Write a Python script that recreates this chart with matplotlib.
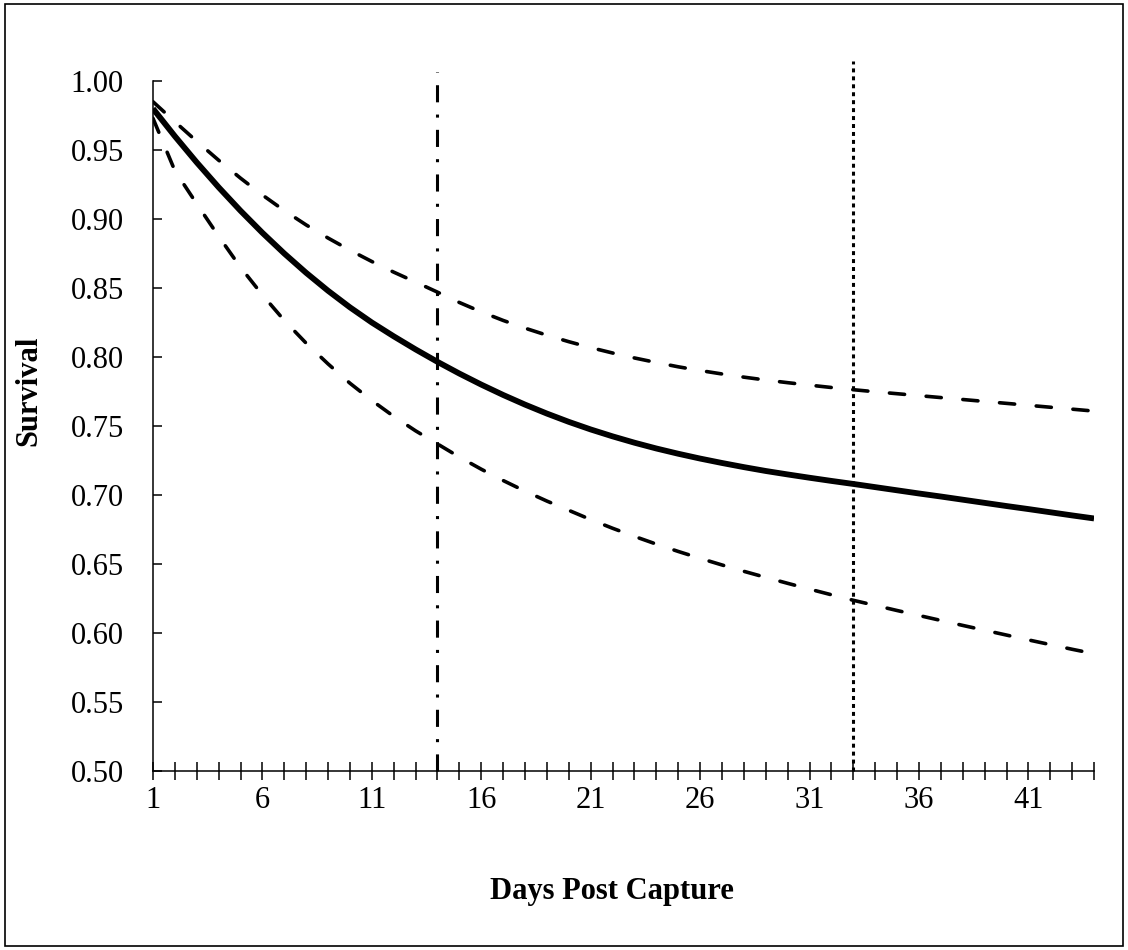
import matplotlib.pyplot as plt
import numpy as np
from matplotlib.patches import Rectangle

# days post capture
days = np.arange(1, 45)

# estimated survival curve and its confidence bounds
survival = [0.9800, 0.9600, 0.9410, 0.9230, 0.9060, 0.8900, 0.8750, 0.8610, 0.8480, 0.8360,
            0.8250, 0.8150, 0.8055, 0.7965, 0.7880, 0.7800, 0.7725, 0.7655, 0.7590, 0.7530,
            0.7475, 0.7425, 0.7379, 0.7337, 0.7299, 0.7264, 0.7232, 0.7202, 0.7174, 0.7149,
            0.7125, 0.7102, 0.7080, 0.7057, 0.7034, 0.7011, 0.6989, 0.6966, 0.6943, 0.6920,
            0.6898, 0.6875, 0.6852, 0.6830]
upper = [0.9850, 0.9705, 0.9563, 0.9426, 0.9296, 0.9174, 0.9061, 0.8957, 0.8862, 0.8774,
         0.8692, 0.8615, 0.8543, 0.8470, 0.8395, 0.8327, 0.8265, 0.8209, 0.8158, 0.8111,
         0.8068, 0.8029, 0.7993, 0.7960, 0.7929, 0.7902, 0.7877, 0.7854, 0.7833, 0.7814,
         0.7796, 0.7779, 0.7763, 0.7748, 0.7734, 0.7720, 0.7706, 0.7692, 0.7678, 0.7664,
         0.7650, 0.7636, 0.7622, 0.7608]
lower = [0.9730, 0.9350, 0.9110, 0.8875, 0.8650, 0.8450, 0.8265, 0.8100, 0.7950, 0.7810,
         0.7685, 0.7570, 0.7465, 0.7370, 0.7275, 0.7187, 0.7105, 0.7028, 0.6956, 0.6889,
         0.6822, 0.6759, 0.6700, 0.6644, 0.6591, 0.6541, 0.6493, 0.6447, 0.6403, 0.6360,
         0.6318, 0.6277, 0.6237, 0.6200, 0.6163, 0.6127, 0.6091, 0.6055, 0.6020, 0.5985,
         0.5950, 0.5916, 0.5882, 0.5850]

# reference day markers (vertical lines)
dashdot_day = [14, 14]
dashdot_y = [0.50, 1.0065]
dotted_day = [33, 33]
dotted_y = [0.50, 1.0145]

y_ticks = [0.50, 0.55, 0.60, 0.65, 0.70, 0.75, 0.80, 0.85, 0.90, 0.95, 1.00]
x_labels = [str(d) if (d - 1) % 5 == 0 else '' for d in days]

plt.rcParams['font.family'] = ['Liberation Serif', 'DejaVu Serif']
plt.rcParams['font.size'] = 22

fig = plt.figure(figsize=(11.28, 9.5), dpi=100)
ax = fig.add_axes([0.1356, 0.18842, 0.8343, 0.72632])

# 绘图
ax.plot(days, upper, c='black', lw=2.6, dashes=(4.2, 6.0), dash_capstyle='round')
ax.plot(days, lower, c='black', lw=2.6, dashes=(4.2, 6.0), dash_capstyle='round')
ax.plot(days, survival, c='black', lw=4.2, solid_capstyle='butt', solid_joinstyle='round')
ax.plot(dashdot_day, dashdot_y, c='black', lw=2.2, dashes=(5.6, 4.0, 1.0, 4.0),
        clip_on=False)
ax.plot(dotted_day, dotted_y, c='black', lw=2.2, dashes=(1.3, 1.3), clip_on=False)

ax.set_xlim(1, 44)
ax.set_ylim(0.5, 1.0)

ax.set_xticks(days)
ax.set_xticklabels(x_labels)
ax.set_yticks(y_ticks)
ax.set_yticklabels(['%.2f' % v for v in y_ticks])

ax.tick_params(axis='x', direction='inout', length=13.5, width=1.1, pad=4)
ax.tick_params(axis='y', direction='in', length=6.5, width=1.1, pad=21)

ax.spines['top'].set_visible(False)
ax.spines['right'].set_visible(False)
ax.spines['left'].set_linewidth(1.1)
ax.spines['bottom'].set_linewidth(1.1)

fig.text(0.5426, 0.0537, 'Days Post Capture', ha='center', va='baseline',
         fontweight='bold')
fig.text(0.0257, 0.589, 'Survival', ha='center', va='center', rotation=90,
         fontweight='bold')

# chart border
fig.patches.append(Rectangle((0.004, 0.004), 0.992, 0.992, transform=fig.transFigure,
                             fill=False, ec='black', lw=1.2))

fig.savefig('out.png', dpi=100)
